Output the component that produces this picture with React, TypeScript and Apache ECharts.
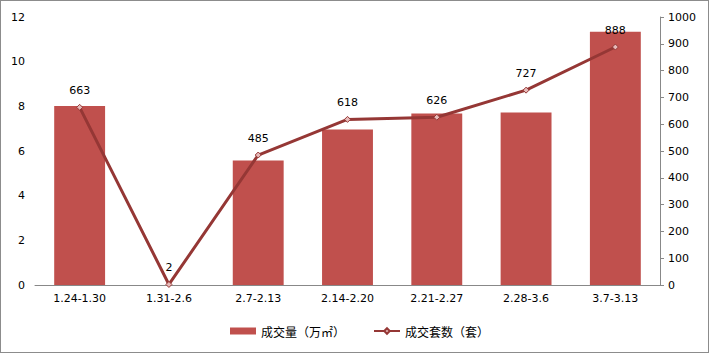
import React, { useEffect, useRef } from "react";
import * as echarts from "echarts";

const categories = ["1.24-1.30", "1.31-2.6", "2.7-2.13", "2.14-2.20", "2.21-2.27", "2.28-3.6", "3.7-3.13"];
const areaValues = [8.02, 0, 5.58, 6.96, 7.68, 7.72, 11.34];
const countValues = [663, 2, 485, 618, 626, 727, 888];
const leftTicks = { min: 0, max: 12, interval: 2 };
const rightTicks = { min: 0, max: 1000, interval: 100 };

const barColor = "#C0504D";
const lineColor = "#953735";
const font = "DejaVu Sans, Noto Sans CJK SC";

export default function App() {
  const ref = useRef<HTMLDivElement>(null);
  useEffect(() => {
    const chart = echarts.init(ref.current!, null, { renderer: "svg" });
    chart.setOption({
      animation: false,
      textStyle: { fontFamily: font },
      grid: { left: 34, right: 48, top: 16, bottom: 67 },
      legend: {
        bottom: 10,
        left: 224,
        itemGap: 28,
        itemWidth: 26,
        itemHeight: 7,
        textStyle: { fontSize: 12, color: "#000", fontFamily: "Noto Sans CJK SC" },
        data: [
          { name: "成交量（万㎡）", icon: "rect" },
          { name: "成交套数（套）" },
        ],
      },
      xAxis: {
        type: "category",
        data: categories,
        axisLine: { show: true, lineStyle: { color: "#888", width: 1 } },
        axisTick: { show: false },
        axisLabel: { color: "#000", fontSize: 11, margin: 8 },
      },
      yAxis: [
        {
          type: "value",
          min: leftTicks.min,
          max: leftTicks.max,
          interval: leftTicks.interval,
          axisLine: { show: false },
          axisTick: { show: false },
          splitLine: { show: false },
          axisLabel: { color: "#000", fontSize: 11, margin: 10 },
        },
        {
          type: "value",
          min: rightTicks.min,
          max: rightTicks.max,
          interval: rightTicks.interval,
          position: "right",
          axisLine: { show: true, lineStyle: { color: "#888" } },
          axisTick: { show: true, length: 4, lineStyle: { color: "#888" } },
          splitLine: { show: false },
          axisLabel: { color: "#000", fontSize: 11, margin: 8, formatter: (v: number) => String(v) },
        },
      ],
      series: [
        {
          name: "成交量（万㎡）",
          type: "bar",
          data: areaValues,
          barWidth: "57%",
          itemStyle: { color: barColor },
          yAxisIndex: 0,
        },
        {
          name: "成交套数（套）",
          type: "line",
          data: countValues,
          yAxisIndex: 1,
          symbol: "diamond",
          symbolSize: 6,
          lineStyle: { color: lineColor, width: 3 },
          itemStyle: { color: "#E6B9B8", borderColor: lineColor, borderWidth: 1 },
          label: { show: true, position: "top", distance: 8, color: "#000", fontSize: 11 },
        },
      ],
    });
    return () => chart.dispose();
  }, []);
  return (
    <div
      style={{
        position: "absolute",
        left: 0,
        top: 0,
        width: 709,
        height: 353,
        border: "1px solid #8c8c8c",
        boxSizing: "border-box",
        background: "#fff",
      }}
    >
      <div ref={ref} style={{ width: 707, height: 351 }} />
    </div>
  );
}
